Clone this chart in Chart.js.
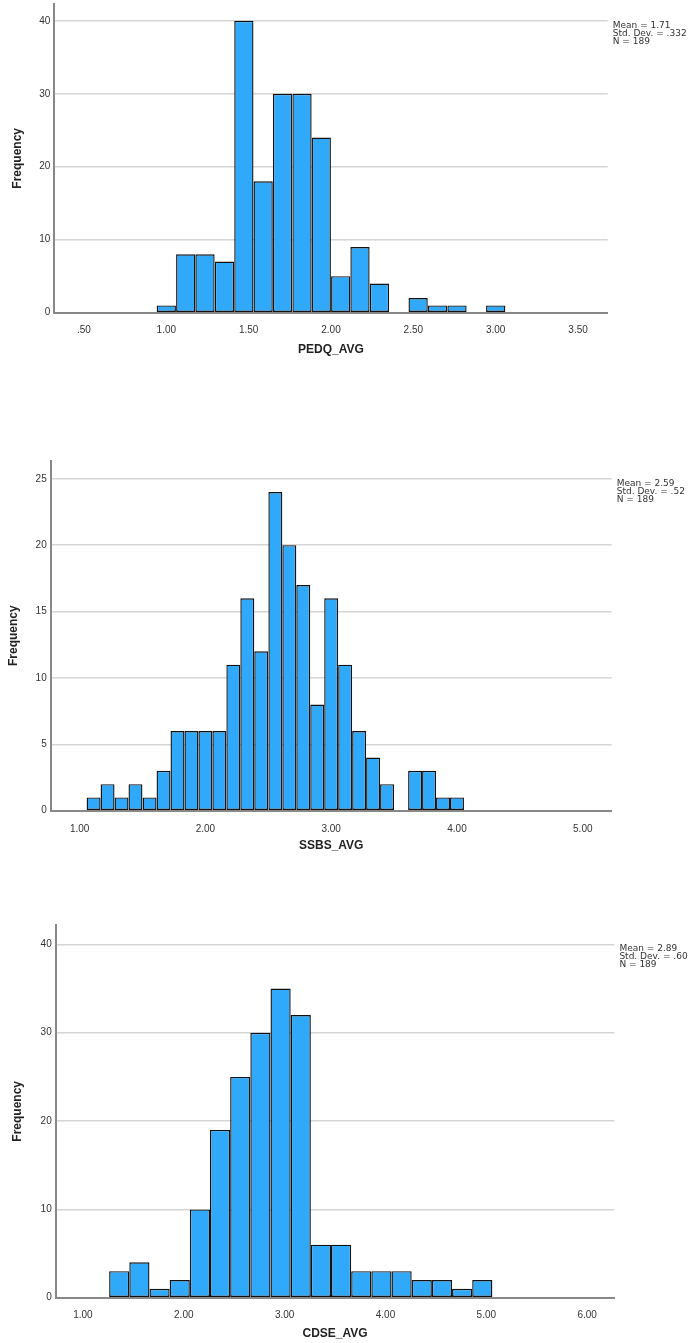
<!DOCTYPE html>
<html>
<head>
<meta charset="utf-8">
<script src="https://cdn.jsdelivr.net/npm/chart.js@4/dist/chart.umd.min.js"></script>
<style>
  body { margin: 0; background: #fff; }
  .wrap { position: relative; width: 689px; height: 1343px; overflow: hidden; }
  canvas { position: absolute; left: 0; }
</style>
</head>
<body>
<div class="wrap">
  <canvas id="pedq" width="689" height="370" style="top:0px"></canvas>
  <canvas id="ssbs" width="689" height="415" style="top:445px"></canvas>
  <canvas id="cdse" width="689" height="428" style="top:915px"></canvas>
</div>
<script>
// PEDQ_AVG histogram
var pedqBins = [1.000, 1.118, 1.235, 1.353, 1.471, 1.588, 1.706, 1.824, 1.941,
                2.059, 2.176, 2.294, 2.412, 2.529, 2.647, 2.765, 2.882, 3.000];
var pedqCounts = [1, 8, 8, 7, 40, 18, 30, 30, 24, 5, 9, 4, 0, 2, 1, 1, 0, 1];
var pedqXTicks = [0.5, 1, 1.5, 2, 2.5, 3, 3.5];
var pedqXLabels = ['.50', '1.00', '1.50', '2.00', '2.50', '3.00', '3.50'];
var pedqYTicks = [0, 10, 20, 30, 40];
var pedqStats = ['Mean = 1.71', 'Std. Dev. = .332', 'N = 189'];

// SSBS_AVG histogram
var ssbsBins = [1.111, 1.222, 1.333, 1.444, 1.556, 1.667, 1.778, 1.889, 2.000,
                2.111, 2.222, 2.333, 2.444, 2.556, 2.667, 2.778, 2.889, 3.000,
                3.111, 3.222, 3.333, 3.444, 3.556, 3.667, 3.778, 3.889, 4.000];
var ssbsCounts = [1, 2, 1, 2, 1, 3, 6, 6, 6, 6, 11, 16, 12, 24, 20, 17, 8, 16,
                  11, 6, 4, 2, 0, 3, 3, 1, 1];
var ssbsXTicks = [1, 2, 3, 4, 5];
var ssbsXLabels = ['1.00', '2.00', '3.00', '4.00', '5.00'];
var ssbsYTicks = [0, 5, 10, 15, 20, 25];
var ssbsStats = ['Mean = 2.59', 'Std. Dev. = .52', 'N = 189'];

// CDSE_AVG histogram
var cdseBins = [1.36, 1.56, 1.76, 1.96, 2.16, 2.36, 2.56, 2.76, 2.96, 3.16,
                3.36, 3.56, 3.76, 3.96, 4.16, 4.36, 4.56, 4.76, 4.96];
var cdseCounts = [3, 4, 1, 2, 10, 19, 25, 30, 35, 32, 6, 6, 3, 3, 3, 2, 2, 1, 2];
var cdseXTicks = [1, 2, 3, 4, 5, 6];
var cdseXLabels = ['1.00', '2.00', '3.00', '4.00', '5.00', '6.00'];
var cdseYTicks = [0, 10, 20, 30, 40];
var cdseStats = ['Mean = 2.89', 'Std. Dev. = .60', 'N = 189'];

var FONT = 'Arial, "Liberation Sans", sans-serif';

// mean / sd / n box to the right of the plot
var statsPlugin = {
  id: 'stats',
  afterDraw: function(chart, args, opts) {
    var ctx = chart.ctx;
    var area = chart.chartArea;
    var y0 = chart.scales.y.getPixelForValue(opts.topTick) + 4.5;
    ctx.save();
    ctx.fillStyle = '#333';
    ctx.textBaseline = 'middle';
    ctx.textAlign = 'left';
    ctx.font = '9px "DejaVu Sans", sans-serif';
    opts.lines.forEach(function(t, i) {
      ctx.fillText(t, area.right + 5, y0 + i * 8);
    });
    ctx.restore();
  }
};

function histogram(id, cfg) {
  var points = cfg.bins.map(function(b, i) { return {x: b, y: cfg.counts[i]}; });
  return new Chart(document.getElementById(id).getContext('2d'), {
    type: 'bar',
    data: {
      datasets: [{
        data: points,
        backgroundColor: '#31a9fb',
        borderColor: '#111',
        borderWidth: 1.4,
        borderSkipped: false,
        barPercentage: 1,
        categoryPercentage: 1,
        inflateAmount: 0
      }]
    },
    plugins: [statsPlugin],
    options: {
      responsive: false,
      animation: false,
      layout: { padding: { top: cfg.padTop, right: cfg.padRight, left: 0, bottom: 0 } },
      plugins: {
        legend: { display: false },
        tooltip: { enabled: false },
        stats: { lines: cfg.stats, topTick: cfg.yTicks[cfg.yTicks.length - 1] }
      },
      scales: {
        x: {
          type: 'linear',
          min: cfg.xMin,
          max: cfg.xMax,
          offset: false,
          grid: { display: false },
          border: { display: true, color: '#888', width: 2 },
          afterBuildTicks: function(s) { s.ticks = cfg.xTicks.map(function(v) { return {value: v}; }); },
          ticks: {
            autoSkip: false, maxRotation: 0,
            padding: cfg.xTickPad,
            color: '#333',
            font: { family: FONT, size: 10 },
            callback: function(v, i) { return cfg.xLabels[i]; }
          },
          title: {
            display: true, text: cfg.title, color: '#222',
            font: { family: FONT, size: 12, weight: 'bold' },
            padding: { top: 0, bottom: cfg.xTitlePad }
          },
          afterFit: function(s) { s.height = cfg.xHeight; s.paddingLeft = 0; s.paddingRight = 0; }
        },
        y: {
          min: 0,
          max: cfg.yMax,
          grid: {
            drawTicks: false,
            lineWidth: 1.5,
            color: function(c) { return c.tick && c.tick.value === 0 ? 'rgba(0,0,0,0)' : '#d6d6d6'; }
          },
          border: { display: true, color: '#888', width: 2 },
          afterBuildTicks: function(s) { s.ticks = cfg.yTicks.map(function(v) { return {value: v}; }); },
          ticks: {
            padding: 4,
            color: '#333',
            font: { family: FONT, size: 10 },
            callback: function(v) { return v; }
          },
          title: {
            display: true, text: 'Frequency', color: '#222',
            font: { family: FONT, size: 12, weight: 'bold' },
            padding: { top: cfg.yTitlePad, bottom: 0 }
          },
          afterFit: function(s) { s.width = cfg.yWidth; s.paddingTop = 0; s.paddingBottom = 0; }
        }
      }
    }
  });
}

histogram('pedq', {
  bins: pedqBins, counts: pedqCounts, xTicks: pedqXTicks, xLabels: pedqXLabels,
  yTicks: pedqYTicks, stats: pedqStats, title: 'PEDQ_AVG',
  xMin: 0.32, xMax: 3.68, yMax: 42.3,
  padTop: 4, padRight: 81.3, yWidth: 54.3, xHeight: 57.3,
  xTickPad: 3.5, xTitlePad: 12.8, yTitlePad: 10
});

histogram('ssbs', {
  bins: ssbsBins, counts: ssbsCounts, xTicks: ssbsXTicks, xLabels: ssbsXLabels,
  yTicks: ssbsYTicks, stats: ssbsStats, title: 'SSBS_AVG',
  xMin: 0.77, xMax: 5.23, yMax: 26.36,
  padTop: 15.7, padRight: 77.3, yWidth: 50.7, xHeight: 49.3,
  xTickPad: 5, xTitlePad: 6.8, yTitlePad: 6
});

histogram('cdse', {
  bins: cdseBins, counts: cdseCounts, xTicks: cdseXTicks, xLabels: cdseXLabels,
  yTicks: cdseYTicks, stats: cdseStats, title: 'CDSE_AVG',
  xMin: 0.73, xMax: 6.27, yMax: 42.2,
  padTop: 10, padRight: 74.6, yWidth: 55.7, xHeight: 45.3,
  xTickPad: 3.5, xTitlePad: 1.8, yTitlePad: 10
});
</script>
</body>
</html>
